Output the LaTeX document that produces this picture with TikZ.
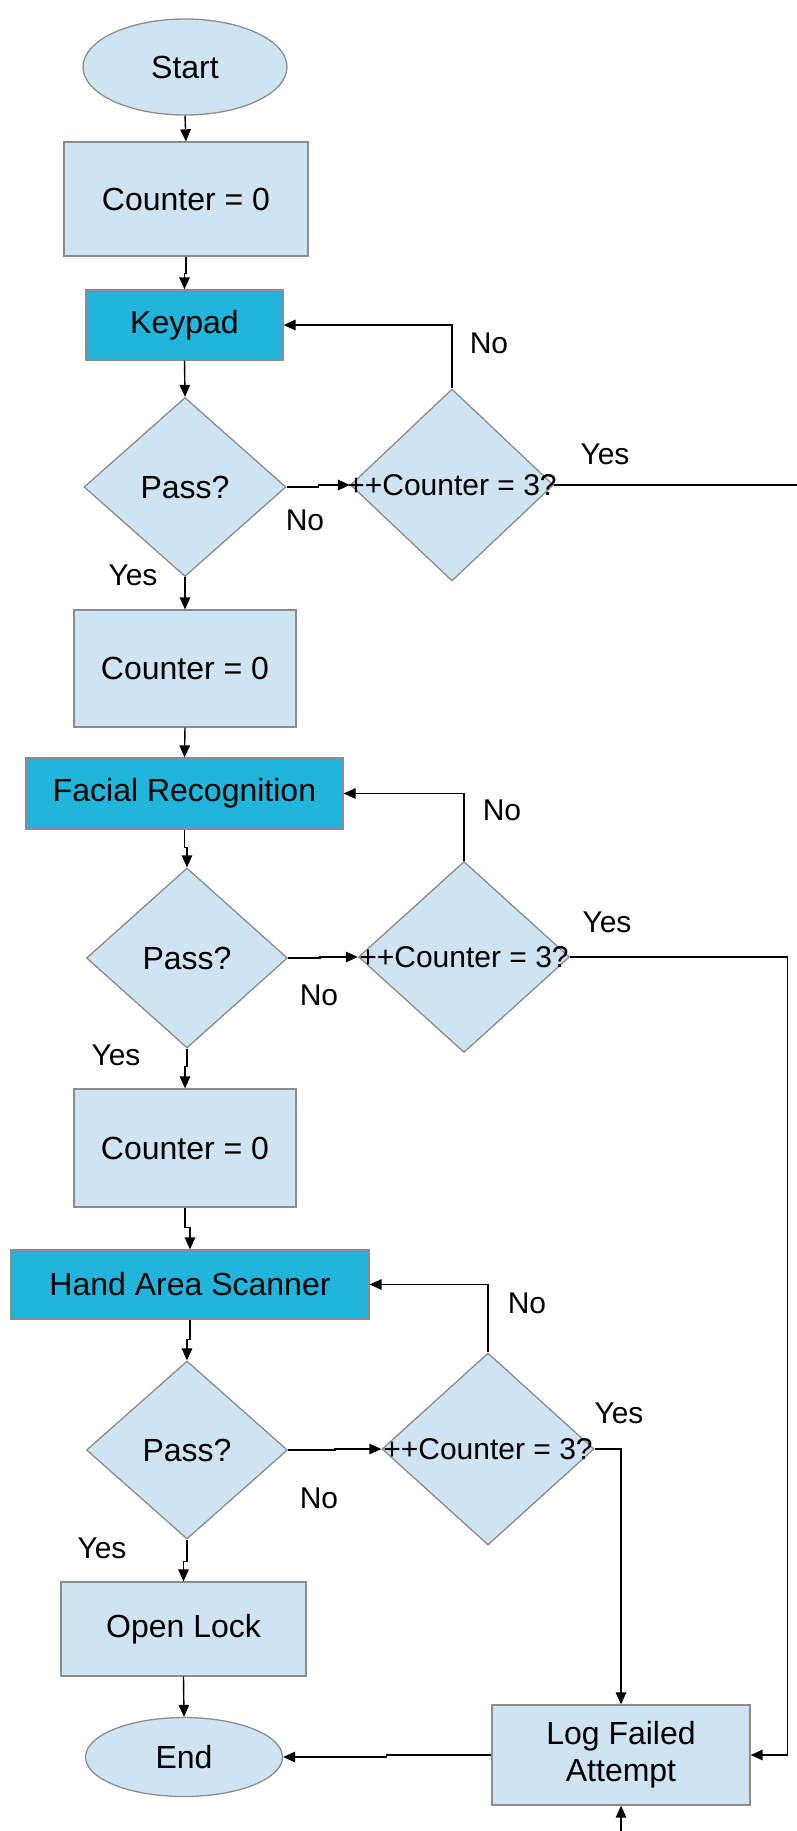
\documentclass[tikz,border=0pt]{standalone}
\usepackage{fontspec}
\setmainfont{Liberation Sans}
\usetikzlibrary{shapes.geometric,arrows.meta}
\definecolor{lightfill}{RGB}{207,228,242}
\definecolor{darkfill}{RGB}{33,181,219}
\definecolor{bordergray}{RGB}{140,140,140}
\begin{document}
\begin{tikzpicture}[x=1pt,y=-1pt,
  base/.style={draw=bordergray,line width=1.3pt,inner sep=0pt,font=\fontsize{32}{37}\selectfont},
  procbox/.style={base,rectangle,fill=lightfill},
  iobox/.style={base,rectangle,fill=darkfill},
  term/.style={base,ellipse,fill=lightfill},
  decide/.style={base,diamond,fill=lightfill,aspect=1},
  arr/.style={line width=1.4pt,-{Triangle[length=12pt,width=10.5pt]}},
  conn/.style={line width=1.4pt},
  lbl/.style={font=\fontsize{30}{36}\selectfont,inner sep=0pt},
  dtext/.style={font=\fontsize{30}{36}\selectfont,inner sep=0pt}
]
\useasboundingbox (0,0) rectangle (797,1831);
\fill[white] (0,0) rectangle (797,1831);

% nodes
\node[term,minimum width=204pt,minimum height=96pt] (start) at (185,67) {Start};
\node[procbox,minimum width=244pt,minimum height=114pt] (c1) at (186,199) {Counter = 0};
\node[iobox,minimum width=197pt,minimum height=70pt] (key) at (184.5,325) {Keypad};
\node[decide,minimum width=202pt,minimum height=179pt] (p1) at (185,487) {Pass?};
\node[decide,minimum width=203pt,minimum height=192pt,label={[dtext]center:++Counter = 3?}] (q1) at (452,485) {};

\node[procbox,minimum width=222pt,minimum height=117pt] (c2) at (185,668.5) {Counter = 0};
\node[iobox,minimum width=317pt,minimum height=71pt] (face) at (184.5,793.5) {Facial Recognition};
\node[decide,minimum width=201pt,minimum height=180pt] (p2) at (187,958) {Pass?};
\node[decide,minimum width=211pt,minimum height=191pt,label={[dtext]center:++Counter = 3?}] (q2) at (464,957) {};

\node[procbox,minimum width=222pt,minimum height=118pt] (c3) at (185,1148) {Counter = 0};
\node[iobox,minimum width=358pt,minimum height=69pt] (hand) at (190,1284.5) {Hand Area Scanner};
\node[decide,minimum width=201pt,minimum height=178pt] (p3) at (187,1450) {Pass?};
\node[decide,minimum width=212pt,minimum height=192pt,label={[dtext]center:++Counter = 3?}] (q3) at (488,1449) {};

\node[procbox,minimum width=245pt,minimum height=94pt] (open) at (183.5,1629) {Open Lock};
\node[term,minimum width=197pt,minimum height=79pt] (end) at (184,1757) {End};
\node[procbox,minimum width=258pt,minimum height=100pt,align=center] (log) at (621,1755) {Log Failed\\Attempt};

\coordinate (edge) at (797,485);
\coordinate (bot) at (621,1831);

% connectors group 1
\draw[arr] (start.south) -- (c1.north);
\draw[arr] (c1.south) -- ++(0,17) -| (key.north);
\draw[arr] (key.south) -- (p1.north);
\draw[arr] (p1.east) -- ++(32,0) |- (q1.west);
\draw[arr] (q1.north) |- (key.east);
\draw[conn] (q1.east) -- (edge);
\draw[arr] (p1.south) -- (c2.north);

% group 2
\draw[arr] (c2.south) -- (face.north);
\draw[arr] (face.south) -- ++(0,18) -| (p2.north);
\draw[arr] (p2.east) -- ++(32,0) |- (q2.west);
\draw[arr] (q2.north) |- (face.east);
\draw[arr] (q2.east) -| ([xshift=37pt]log.east) -- (log.east);
\draw[arr] (p2.south) -- ++(0,18) -| (c3.north);

% group 3
\draw[arr] (c3.south) -- ++(0,20) -| (hand.north);
\draw[arr] (hand.south) -- ++(0,20) -| (p3.north);
\draw[arr] (p3.east) -- ++(47,0) |- (q3.west);
\draw[arr] (q3.north) |- (hand.east);
\draw[arr] (q3.east) -| (log.north);
\draw[arr] (p3.south) -- ++(0,22) -| (open.north);
\draw[arr] (open.south) -- (end.north);
\draw[arr] (log.west) -- ++(-105,0) |- (end.east);
\draw[arr] (bot) -- (log.south);

% labels
\node[lbl] (n1) at (489,343) {No};
\node[lbl] (y1) at (605,454) {Yes};
\node[lbl] (n1b) at (305,520) {No};
\node[lbl] (y1b) at (133,575) {Yes};
\node[lbl] (n2) at (502,810) {No};
\node[lbl] (y2) at (607,922) {Yes};
\node[lbl] (n2b) at (319,995) {No};
\node[lbl] (y2b) at (116,1055) {Yes};
\node[lbl] (n3) at (527,1303) {No};
\node[lbl] (y3) at (619,1413) {Yes};
\node[lbl] (n3b) at (319,1498) {No};
\node[lbl] (y3b) at (102,1548) {Yes};
\end{tikzpicture}
\end{document}
